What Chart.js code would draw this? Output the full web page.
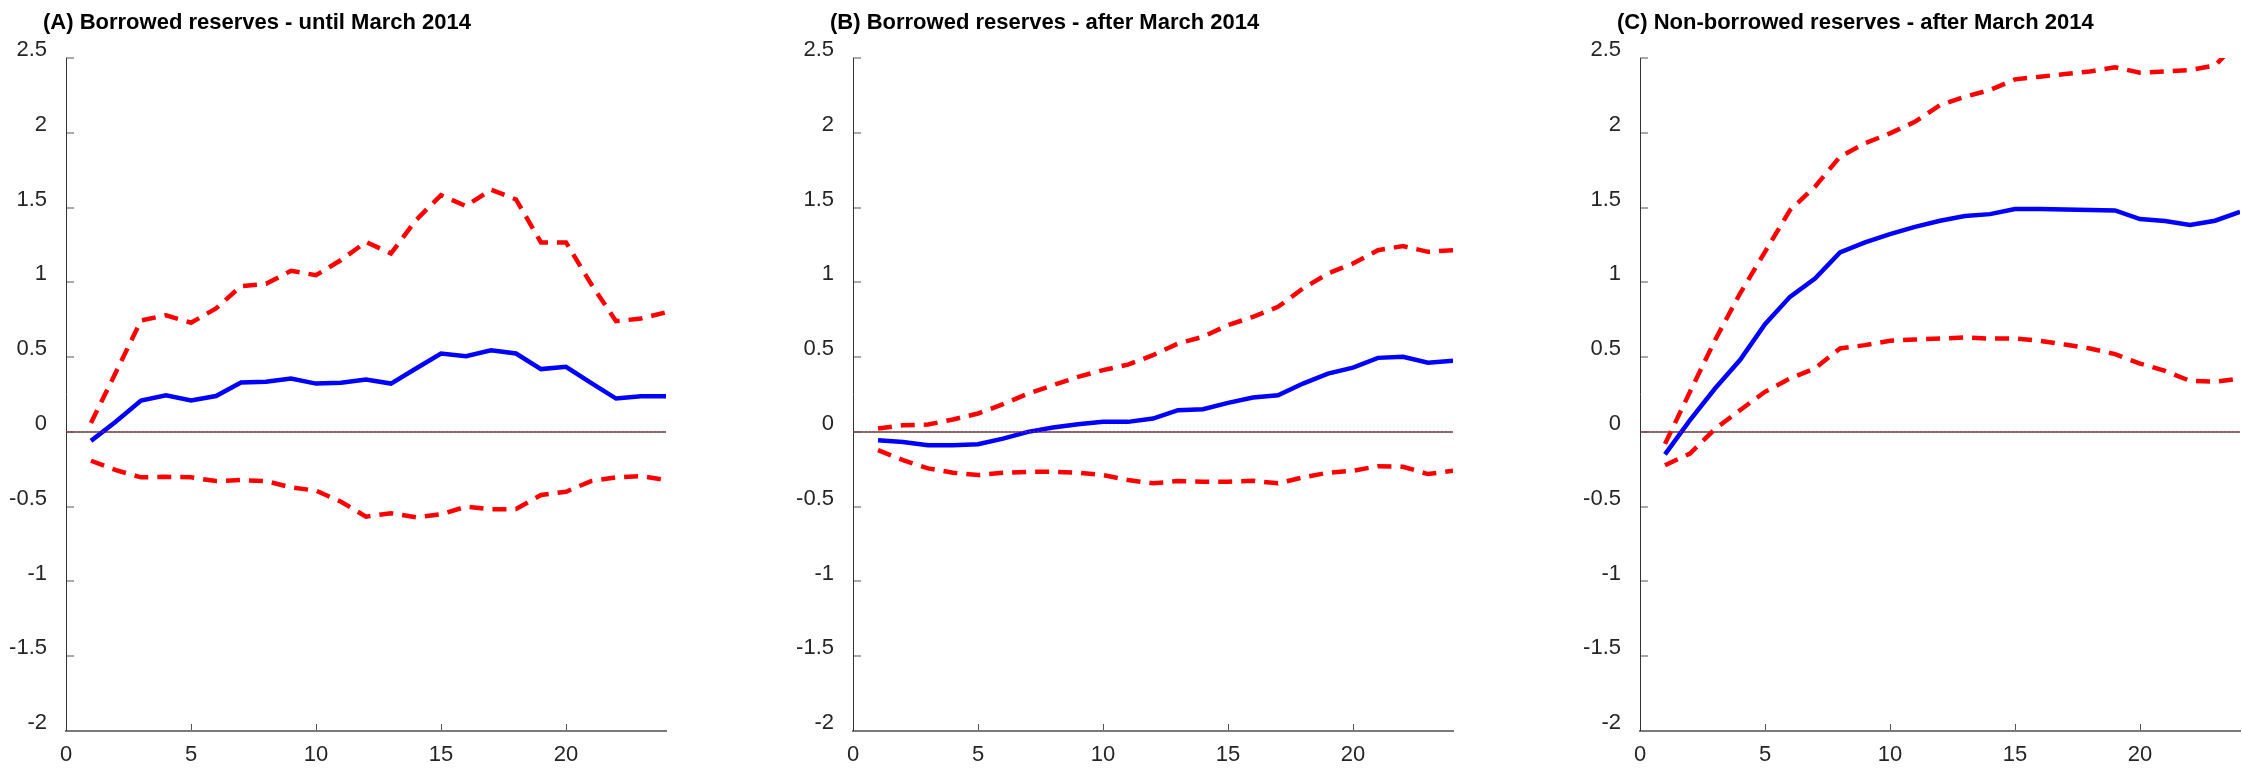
<!DOCTYPE html>
<html>
<head>
<meta charset="utf-8">
<script src="https://cdn.jsdelivr.net/npm/chart.js@4.4.1/dist/chart.umd.min.js"></script>
<style>
  html, body { margin: 0; padding: 0; background: #fff; overflow: hidden; }
  .panel { position: absolute; top: 0; width: 668px; height: 771px; }
</style>
</head>
<body>
<div class="panel" style="left:0px"><canvas id="panelA" width="668" height="771"></canvas></div>
<div class="panel" style="left:787px"><canvas id="panelB" width="668" height="771"></canvas></div>
<div class="panel" style="left:1574px"><canvas id="panelC" width="668" height="771"></canvas></div>
<script>
// horizon (months after the shock)
const horizon = [1, 2, 3, 4, 5, 6, 7, 8, 9, 10, 11, 12, 13, 14, 15, 16, 17, 18, 19, 20, 21, 22, 23, 24];

// (A) borrowed reserves, sample until March 2014
const irfA = [-0.06, 0.07, 0.21, 0.245, 0.21, 0.24, 0.33, 0.335, 0.357, 0.323, 0.328, 0.35,
  0.323, 0.424, 0.524, 0.506, 0.546, 0.524, 0.42, 0.435, 0.328, 0.223, 0.239, 0.239];
const upperA = [0.06, 0.40, 0.745, 0.78, 0.73, 0.825, 0.975, 0.99, 1.077, 1.048, 1.149, 1.27,
  1.193, 1.416, 1.583, 1.51, 1.62, 1.554, 1.267, 1.267, 0.99, 0.74, 0.758, 0.80];
const lowerA = [-0.193, -0.256, -0.304, -0.30, -0.304, -0.329, -0.322, -0.329, -0.371, -0.393, -0.467, -0.567,
  -0.544, -0.571, -0.551, -0.50, -0.518, -0.516, -0.422, -0.40, -0.329, -0.304, -0.296, -0.322];

// (B) borrowed reserves, sample after March 2014
const irfB = [-0.056, -0.067, -0.089, -0.089, -0.083, -0.045, 0.0, 0.029, 0.051, 0.067, 0.067, 0.089,
  0.145, 0.152, 0.194, 0.23, 0.245, 0.323, 0.39, 0.43, 0.495, 0.502, 0.462, 0.475];
const upperB = [0.022, 0.045, 0.049, 0.083, 0.123, 0.185, 0.256, 0.312, 0.368, 0.413, 0.45, 0.513,
  0.591, 0.636, 0.714, 0.769, 0.836, 0.959, 1.059, 1.126, 1.215, 1.242, 1.204, 1.215];
const lowerB = [-0.122, -0.189, -0.244, -0.273, -0.289, -0.273, -0.267, -0.267, -0.273, -0.289, -0.322, -0.344,
  -0.329, -0.333, -0.333, -0.327, -0.344, -0.304, -0.273, -0.26, -0.229, -0.233, -0.282, -0.26];

// (C) non-borrowed reserves, sample after March 2014
const irfC = [-0.15, 0.078, 0.29, 0.48, 0.72, 0.903, 1.026, 1.20, 1.267, 1.322, 1.371, 1.412,
  1.443, 1.456, 1.49, 1.49, 1.487, 1.483, 1.481, 1.423, 1.41, 1.383, 1.412, 1.472];
const upperC = [-0.08, 0.268, 0.613, 0.925, 1.204, 1.483, 1.64, 1.84, 1.93, 1.996, 2.074, 2.185,
  2.241, 2.286, 2.357, 2.375, 2.393, 2.41, 2.438, 2.402, 2.41, 2.42, 2.45, 2.62];
const lowerC = [-0.223, -0.145, 0.02, 0.145, 0.268, 0.357, 0.424, 0.558, 0.58, 0.609, 0.618, 0.624,
  0.631, 0.624, 0.624, 0.609, 0.584, 0.558, 0.52, 0.457, 0.408, 0.341, 0.335, 0.357];

const zeroLineX = [0, 24];

const FONT = '"Liberation Sans", Arial, Helvetica, sans-serif';

function pts(ys) {
  return ys.map((y, i) => ({ x: horizon[i], y: y }));
}

// bold panel heading, placed just left of the y axis
const panelTitle = {
  id: 'panelTitle',
  afterDraw(chart, args, opts) {
    const ctx = chart.ctx;
    ctx.save();
    ctx.font = 'bold 22px ' + FONT;
    ctx.fillStyle = '#000';
    ctx.textBaseline = 'middle';
    ctx.textAlign = 'left';
    ctx.fillText(opts.text, chart.chartArea.left - 23, 23);
    ctx.restore();
  }
};

function makePanel(id, title, irf, upper, lower) {
  const ctx = document.getElementById(id).getContext('2d');
  return new Chart(ctx, {
    type: 'line',
    data: {
      datasets: [
        {
          data: zeroLineX.map((x) => ({ x: x, y: 0 })),
          borderColor: 'rgba(230,40,40,0.8)',
          borderWidth: 1,
          borderDash: [2, 2],
          pointRadius: 0
        },
        {
          data: pts(upper),
          borderColor: '#ff0000',
          borderWidth: 4.5,
          borderDash: [14, 9],
          pointRadius: 0
        },
        {
          data: pts(lower),
          borderColor: '#ff0000',
          borderWidth: 4.5,
          borderDash: [14, 9],
          pointRadius: 0
        },
        {
          data: pts(irf),
          borderColor: '#0000ff',
          borderWidth: 4.5,
          pointRadius: 0
        }
      ]
    },
    options: {
      responsive: false,
      animation: false,
      events: [],
      layout: { padding: { top: 58, right: 2, bottom: 0, left: 0 } },
      plugins: {
        legend: { display: false },
        tooltip: { enabled: false },
        panelTitle: { text: title }
      },
      scales: {
        x: {
          type: 'linear',
          min: 0,
          max: 24,
          afterFit: (s) => { s.height = 40; s.paddingLeft = 0; s.paddingRight = 0; },
          border: { color: '#7a7a7a', width: 2 },
          grid: { drawOnChartArea: false, tickLength: -7, tickColor: '#555', tickWidth: 1 },
          ticks: {
            stepSize: 5,
            includeBounds: false,
            maxRotation: 0,
            padding: 18,
            color: '#262626',
            font: { family: FONT, size: 22 }
          }
        },
        y: {
          min: -2,
          max: 2.5,
          afterFit: (s) => { s.width = 66; s.paddingTop = 0; s.paddingBottom = 0; },
          border: { color: '#333', width: 1 },
          grid: {
            drawOnChartArea: true,
            tickLength: -8,
            tickColor: '#555',
            tickWidth: 1,
            color: (c) => (c.tick && c.tick.value === 0 ? '#7a7a7a' : 'rgba(0,0,0,0)'),
            lineWidth: (c) => (c.tick && c.tick.value === 0 ? 2 : 0)
          },
          ticks: {
            stepSize: 0.5,
            padding: 27,
            labelOffset: -8,
            color: '#262626',
            font: { family: FONT, size: 22 },
            callback: (v) => String(v)
          }
        }
      }
    },
    plugins: [panelTitle]
  });
}

makePanel('panelA', '(A) Borrowed reserves - until March 2014', irfA, upperA, lowerA);
makePanel('panelB', '(B) Borrowed reserves - after March 2014', irfB, upperB, lowerB);
makePanel('panelC', '(C) Non-borrowed reserves - after March 2014', irfC, upperC, lowerC);
</script>
</body>
</html>
